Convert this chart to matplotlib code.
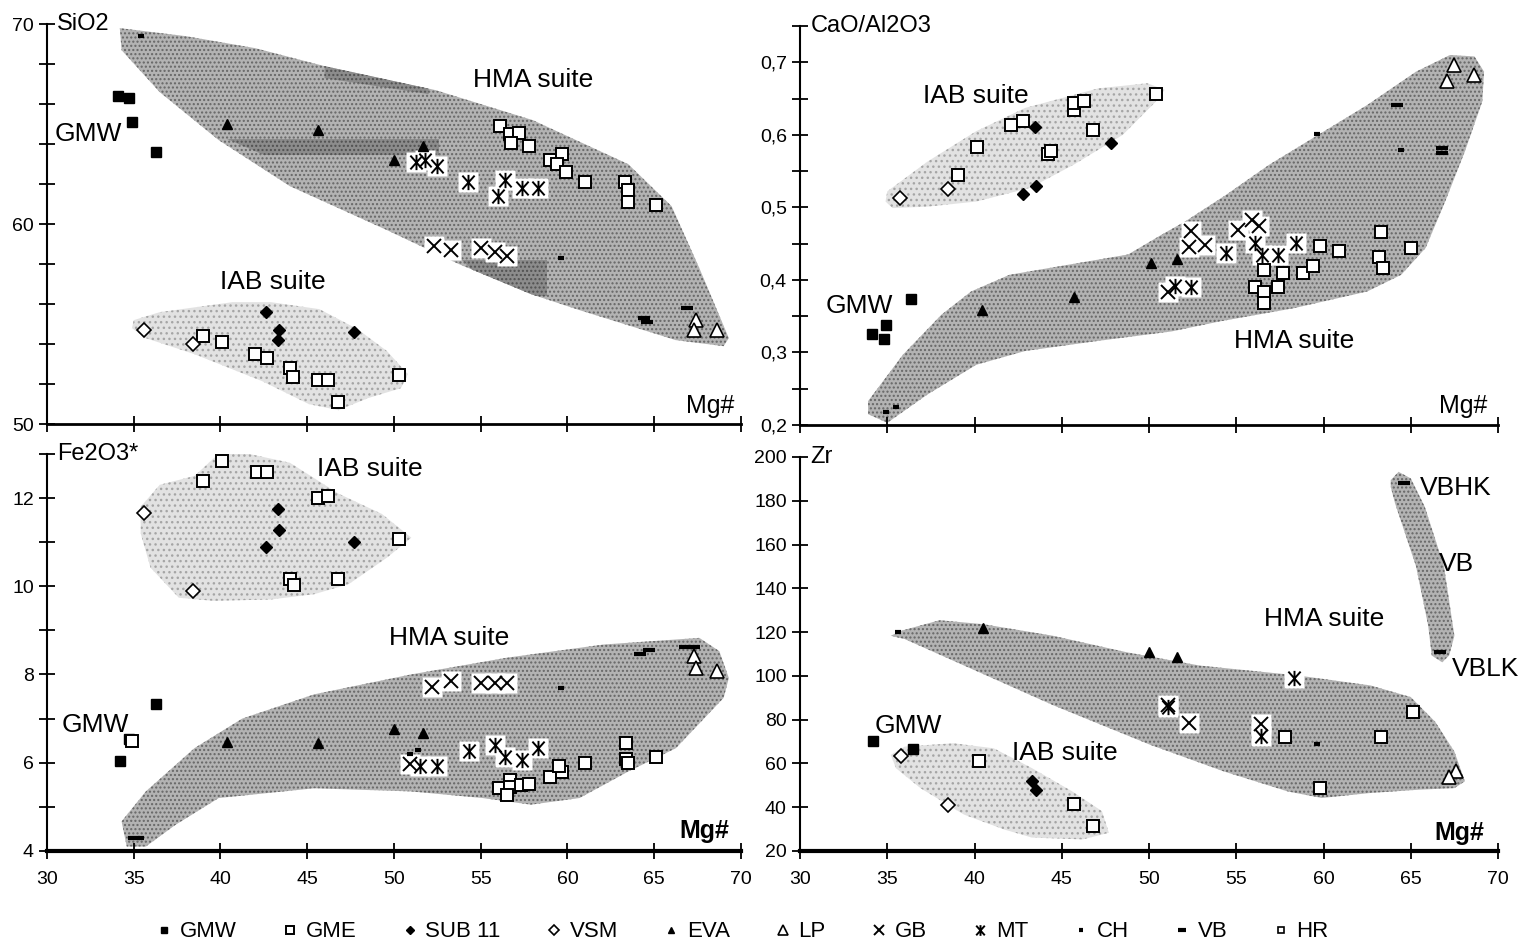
import numpy as np
import matplotlib
import matplotlib.pyplot as plt
from matplotlib.patches import Polygon
from matplotlib.path import Path
from matplotlib.lines import Line2D

plt.rcParams['font.family'] = ['Liberation Sans', 'DejaVu Sans']
plt.rcParams['hatch.linewidth'] = 1.0

# ---------------- data ----------------
x_ticks = [30, 35, 40, 45, 50, 55, 60, 65, 70]
x_labels = ['30', '35', '40', '45', '50', '55', '60', '65', '70']

# SiO2 vs Mg#
tl_yticks = [50, 52, 54, 56, 58, 60, 62, 64, 66, 68, 70]
tl_ylabels = ['50', '', '', '', '', '60', '', '', '', '', '70']
tl_gmw = [(34.1, 66.4), (34.7, 66.3), (34.9, 65.1), (36.3, 63.6)]
tl_gme = [(39.0, 54.4), (40.1, 54.1), (42.0, 53.5), (42.7, 53.3), (44.0, 52.8), (44.2, 52.35),
          (45.6, 52.2), (46.2, 52.2), (46.8, 51.1), (50.3, 52.45),
          (56.1, 64.9), (56.7, 64.5), (57.2, 64.55), (56.75, 64.05), (57.8, 63.9), (59.0, 63.2),
          (59.7, 63.5), (59.4, 63.0), (59.9, 62.6), (61.0, 62.1), (63.3, 62.1), (63.5, 61.7),
          (63.5, 61.1), (65.1, 60.95)]
tl_sub11 = [(42.6, 55.6), (43.4, 54.7), (43.3, 54.2), (47.7, 54.6)]
tl_vsm = [(35.6, 54.7), (38.4, 54.0)]
tl_eva = [(40.4, 65.0), (45.6, 64.7), (50.0, 63.2), (51.7, 63.9)]
tl_lp = [(67.4, 55.2), (67.3, 54.7), (68.6, 54.7)]
tl_gb = [(52.3, 58.9), (53.3, 58.7), (55.0, 58.8), (55.8, 58.6), (56.5, 58.4)]
tl_mt = [(51.25, 63.1), (51.8, 63.2), (52.5, 62.9), (54.25, 62.1), (56.4, 62.2), (56.0, 61.4),
         (57.4, 61.8), (58.3, 61.8)]
tl_ch = [(35.4, 69.4), (59.6, 58.3)]
tl_vb = [(66.9, 55.8), (64.4, 55.3), (64.6, 55.1)]
tl_hma = [(34.2, 69.8), (38.0, 69.4), (42.0, 68.8), (46.0, 67.9), (52.4, 66.7), (58.0, 65.2),
          (63.5, 63.0), (66.0, 60.9), (67.6, 57.8), (69.3, 54.3), (69.0, 53.9), (66.25, 54.2),
          (60.7, 55.7), (57.9, 56.5), (53.75, 58.0), (49.6, 59.7), (44.0, 61.9), (39.9, 64.2),
          (36.5, 66.6), (34.3, 68.7)]
tl_iab = [(35.0, 55.2), (36.5, 55.6), (40.7, 56.1), (42.9, 56.1), (45.7, 55.75), (47.9, 54.75),
          (49.6, 53.65), (50.8, 52.5), (50.4, 51.8), (48.5, 51.3), (46.8, 50.7), (45.1, 51.0),
          (42.4, 52.15), (38.5, 53.5), (35.7, 54.3), (34.9, 54.8)]
tl_text = [('HMA suite', 58.0, 67.2), ('IAB suite', 43.0, 57.1), ('GMW', 32.4, 64.5)]

# CaO/Al2O3 vs Mg#
tr_yticks = [0.2, 0.25, 0.3, 0.35, 0.4, 0.45, 0.5, 0.55, 0.6, 0.65, 0.7, 0.75]
tr_ylabels = ['0,2', '', '0,3', '', '0,4', '', '0,5', '', '0,6', '', '0,7', '']
tr_gmw = [(36.36, 0.374), (34.1, 0.326), (34.9, 0.338), (34.8, 0.319)]
tr_gme = [(39.05, 0.544), (40.17, 0.583), (42.1, 0.614), (42.75, 0.619), (45.7, 0.634),
          (45.7, 0.644), (46.3, 0.646), (46.8, 0.607), (44.2, 0.573), (44.4, 0.578), (50.4, 0.656),
          (59.8, 0.447), (60.9, 0.440), (56.6, 0.413), (57.7, 0.410), (58.85, 0.410), (59.4, 0.419),
          (56.05, 0.390), (56.6, 0.384), (57.4, 0.390), (56.6, 0.368), (63.3, 0.466), (63.2, 0.431),
          (63.4, 0.416), (65.0, 0.444)]
tr_sub11 = [(43.45, 0.611), (42.75, 0.518), (43.5, 0.529), (47.8, 0.589)]
tr_vsm = [(35.74, 0.513), (38.46, 0.525)]
tr_eva = [(50.1, 0.423), (51.6, 0.429), (45.7, 0.377), (40.4, 0.359)]
tr_lp = [(67.5, 0.696), (67.1, 0.674), (68.6, 0.682)]
tr_gb = [(52.4, 0.467), (52.3, 0.446), (53.2, 0.448), (55.1, 0.469), (55.9, 0.483), (56.3, 0.474),
         (51.1, 0.384)]
tr_mt = [(54.4, 0.437), (56.05, 0.451), (56.5, 0.435), (57.4, 0.435), (58.4, 0.451), (51.5, 0.391),
         (52.4, 0.390)]
tr_ch = [(59.6, 0.601), (64.45, 0.579), (34.9, 0.218), (35.5, 0.225)]
tr_vb = [(64.2, 0.641), (66.8, 0.582), (66.8, 0.575)]
tr_hma = [(35.0, 0.203), (37.3, 0.242), (40.1, 0.283), (42.9, 0.302), (47.1, 0.316), (51.3, 0.329),
          (54.1, 0.343), (58.3, 0.361), (62.5, 0.384), (64.45, 0.407), (65.85, 0.444), (66.97, 0.508),
          (68.1, 0.577), (69.1, 0.646), (69.2, 0.687), (68.65, 0.708), (67.25, 0.710), (65.3, 0.687),
          (62.5, 0.641), (59.7, 0.600), (56.9, 0.559), (54.4, 0.517), (52.1, 0.481), (50.7, 0.462),
          (48.8, 0.435), (45.4, 0.421), (42.0, 0.407), (39.8, 0.384), (38.1, 0.352), (35.9, 0.297),
          (33.9, 0.233), (33.9, 0.215)]
tr_iab = [(34.9, 0.508), (35.0, 0.522), (37.3, 0.563), (40.1, 0.605), (42.9, 0.637), (47.1, 0.664),
          (49.9, 0.671), (50.9, 0.662), (50.4, 0.646), (48.5, 0.600), (45.7, 0.559), (43.2, 0.527),
          (40.1, 0.508), (37.3, 0.501), (35.3, 0.499)]
tr_text = [('IAB suite', 40.1, 0.653), ('GMW', 33.4, 0.364), ('HMA suite', 58.3, 0.316)]

# Fe2O3* vs Mg#
bl_yticks = [4, 5, 6, 7, 8, 9, 10, 11, 12, 13]
bl_ylabels = ['4', '', '6', '', '8', '', '10', '', '12', '']
bl_gmw = [(36.3, 7.33), (34.7, 6.54), (34.2, 6.03)]
bl_gme = [(34.9, 6.5), (40.1, 12.85), (39.0, 12.39), (42.1, 12.6), (42.7, 12.6), (45.6, 11.99),
          (46.2, 12.04), (50.3, 11.08), (44.0, 10.16), (44.25, 10.02), (46.8, 10.16),
          (56.05, 5.42), (56.7, 5.61), (56.7, 5.46), (56.5, 5.26), (57.3, 5.5), (57.8, 5.52),
          (59.0, 5.67), (59.7, 5.8), (59.5, 5.92), (61.0, 5.99), (63.4, 6.45), (63.4, 6.08),
          (63.5, 5.99), (65.1, 6.14)]
bl_sub11 = [(43.3, 11.75), (43.4, 11.27), (42.6, 10.88), (47.7, 11.0)]
bl_vsm = [(35.6, 11.67), (38.4, 9.9)]
bl_eva = [(40.4, 6.48), (45.6, 6.45), (50.0, 6.77), (51.7, 6.67)]
bl_lp = [(67.3, 8.42), (67.4, 8.15), (68.6, 8.09)]
bl_gb = [(52.2, 7.71), (53.3, 7.85), (55.0, 7.81), (55.8, 7.81), (56.5, 7.81), (50.9, 5.98)]
bl_mt = [(51.5, 5.92), (52.5, 5.92), (54.3, 6.27), (55.8, 6.41), (56.4, 6.14), (57.4, 6.07),
         (58.3, 6.33)]
bl_ch = [(50.9, 6.2), (51.4, 6.28), (59.6, 7.7), (35.4, 4.29)]
bl_vb = [(64.2, 8.47), (64.7, 8.55), (66.8, 8.62), (67.3, 8.62), (35.0, 4.3)]
bl_hma = [(34.6, 4.1), (34.3, 4.67), (35.7, 5.35), (38.5, 6.33), (41.25, 7.0), (45.4, 7.55),
          (50.97, 8.0), (56.5, 8.38), (62.1, 8.68), (67.6, 8.83), (68.75, 8.53), (69.3, 7.92),
          (69.0, 7.47), (66.25, 6.33), (63.5, 5.8), (60.7, 5.2), (57.9, 5.05), (55.1, 5.2),
          (50.97, 5.35), (45.4, 5.42), (39.9, 5.2), (37.4, 4.59), (35.7, 4.1)]
bl_iab = [(35.4, 11.8), (36.5, 12.3), (38.5, 12.5), (40.0, 13.04), (40.7, 13.08), (44.0, 12.8),
          (46.8, 12.1), (49.3, 11.64), (51.0, 11.1), (49.6, 10.65), (47.4, 10.05), (45.4, 9.82),
          (42.9, 9.7), (39.6, 9.67), (37.6, 9.74), (35.97, 10.42), (35.4, 11.2)]
bl_text = [('IAB suite', 48.6, 12.66), ('HMA suite', 53.2, 8.83), ('GMW', 32.8, 6.86)]

# Zr vs Mg#
br_yticks = [20, 40, 60, 80, 100, 120, 140, 160, 180, 200]
br_ylabels = ['20', '40', '60', '80', '100', '120', '140', '160', '180', '200']
br_gmw = [(34.2, 70.2), (36.5, 66.4)]
br_gme = [(40.25, 61.1), (45.7, 41.6), (46.8, 31.6), (57.8, 72.2), (63.3, 72.2), (65.1, 83.5),
          (59.8, 48.7)]
br_sub11 = [(43.3, 51.8), (43.5, 48.0)]
br_vsm = [(35.8, 63.4), (38.5, 41.2)]
br_eva = [(40.5, 121.8), (50.0, 111.1), (51.6, 108.5)]
br_lp = [(67.6, 56.3), (67.2, 53.6)]
br_gb = [(52.3, 78.5), (56.4, 78.2), (51.1, 86.5)]
br_mt = [(58.3, 99.0), (51.1, 85.8), (56.4, 72.5)]
br_ch = [(35.6, 120.2), (59.6, 68.7)]
br_vb = [(64.6, 187.9), (66.7, 110.8)]
br_hma = [(35.2, 118.3), (35.8, 120.6), (38.0, 125.4), (40.5, 123.6), (44.5, 118.3), (48.7, 110.8),
          (52.9, 104.7), (58.5, 100.2), (62.7, 95.6), (65.0, 90.3), (66.4, 79.0), (67.5, 65.4),
          (68.1, 51.8), (67.5, 48.7), (65.5, 48.0), (62.7, 46.5), (59.9, 44.2), (57.95, 47.2),
          (54.3, 56.3), (50.1, 68.4), (44.5, 86.6), (40.25, 101.7), (36.0, 116.8)]
br_vbfield = [(63.85, 189.4), (64.3, 193.2), (65.0, 190.2), (65.8, 177.3), (66.9, 150.1),
              (67.5, 118.3), (67.2, 109.3), (66.8, 106.2), (66.2, 109.3), (66.0, 122.9),
              (65.3, 150.1), (64.1, 178.8), (63.85, 186.4)]
br_iab = [(35.2, 63.9), (36.0, 67.7), (38.8, 69.2), (41.1, 66.9), (43.3, 57.8), (45.6, 47.2),
          (47.3, 38.2), (47.7, 28.3), (46.2, 25.3), (43.3, 26.1), (41.7, 29.8), (39.4, 36.6),
          (36.9, 48.7), (35.5, 57.8)]
br_text = [('HMA suite', 60.05, 125.9), ('GMW', 36.2, 77.2), ('IAB suite', 45.2, 64.6),
           ('VBHK', 67.6, 185.7), ('VB', 67.6, 150.9), ('VBLK', 69.3, 103.2)]

legend_names = ['GMW', 'GME', 'SUB 11', 'VSM', 'EVA', 'LP', 'GB', 'MT', 'CH', 'VB', 'HR']

# ---------------- styles ----------------
# "ж"-like symbol: an X with a vertical stroke through it
mt_marker = Path([(-0.8, -0.9), (0.8, 0.9), (-0.8, 0.9), (0.8, -0.9), (0, -1), (0, 1)],
                 [Path.MOVETO, Path.LINETO, Path.MOVETO, Path.LINETO, Path.MOVETO, Path.LINETO])

styles = {
    'GMW': dict(marker='s', ms=7, mfc='black', mec='black'),
    'GME': dict(marker='s', ms=9, mfc='white', mec='black', mew=1.4),
    'SUB 11': dict(marker='D', ms=6, mfc='black', mec='black'),
    'VSM': dict(marker='D', ms=7, mfc='white', mec='black', mew=1.2),
    'EVA': dict(marker='^', ms=7, mfc='black', mec='black'),
    'LP': dict(marker='^', ms=10, mfc='white', mec='black', mew=1.2),
    'GB': dict(marker='x', ms=10, mec='black', mew=1.4),
    'MT': dict(marker=mt_marker, ms=11, mec='black', mew=1.4),
    'CH': dict(marker='_', ms=5, mec='black', mew=3),
    'VB': dict(marker='_', ms=9, mec='black', mew=3),
    'HR': dict(marker='s', ms=7, mfc='white', mec='black', mew=1.2),
}

fig = plt.figure(figsize=(15.3, 9.51), dpi=100)
ax_tl = fig.add_axes([0.0307, 0.554, 0.4536, 0.4206])
ax_tr = fig.add_axes([0.5229, 0.5531, 0.4562, 0.4196])
ax_bl = fig.add_axes([0.0307, 0.1052, 0.4536, 0.4175])
ax_br = fig.add_axes([0.5229, 0.1052, 0.4562, 0.4143])


def field(ax, pts, dark=True):
    if dark:
        p = Polygon(pts, closed=True, facecolor='#b3b3b3', edgecolor='#666666', hatch='....', lw=0, zorder=1)
    else:
        p = Polygon(pts, closed=True, facecolor='#e2e2e2', edgecolor='#a5a5a5', hatch='...', lw=0, zorder=1)
    ax.add_patch(p)
    return p


def points(ax, name, pts, halo=False):
    xs = [p[0] for p in pts]
    ys = [p[1] for p in pts]
    if halo:
        ax.plot(xs, ys, ls='none', marker='s', ms=15, mfc='white', mec='none', zorder=3)
    ax.plot(xs, ys, ls='none', zorder=4, **styles[name])


def setup(ax, ylim, yticks, ylabels, ytitle, bottom):
    ax.set_xlim(30, 70)
    ax.set_ylim(*ylim)
    for s in ['top', 'right']:
        ax.spines[s].set_visible(False)
    ax.spines['left'].set_linewidth(1.5)
    ax.spines['bottom'].set_linewidth(3 if bottom else 2)
    ax.set_xticks(x_ticks)
    ax.set_xticklabels(x_labels if bottom else [''] * len(x_ticks))
    ax.set_yticks(yticks)
    ax.set_yticklabels(ylabels)
    ax.tick_params(direction='inout', length=11, width=1.3, labelsize=14, pad=4)
    ax.tick_params(axis='x', pad=9)
    ax.set_facecolor('none')
    ax.text(30.6, ylim[1], ytitle, fontsize=17, va='center', ha='left')


setup(ax_tl, (50, 70), tl_yticks, tl_ylabels, 'SiO2', False)
setup(ax_tr, (0.2, 0.75), tr_yticks, tr_ylabels, 'CaO/Al2O3', False)
setup(ax_bl, (4, 13), bl_yticks, bl_ylabels, 'Fe2O3*', True)
setup(ax_br, (20, 200), br_yticks, br_ylabels, 'Zr', True)

# fields
hma = field(ax_tl, tl_hma)
field(ax_tl, tl_iab, dark=False)
# darker overprinted bands in the scan
for band in ([(40.4, 64.25), (52.6, 64.25), (52.6, 63.45), (42.5, 63.45)],
             [(46.0, 68.2), (52.0, 68.2), (52.0, 66.5), (46.0, 67.3)],
             [(53.9, 58.2), (58.8, 58.2), (58.8, 56.4), (56.0, 56.4)]):
    b = Polygon(band, closed=True, facecolor='#8c8c8c', edgecolor='#505050', hatch='....', lw=0, zorder=1.5)
    ax_tl.add_patch(b)
    b.set_clip_path(hma)

field(ax_tr, tr_hma)
field(ax_tr, tr_iab, dark=False)
field(ax_bl, bl_hma)
field(ax_bl, bl_iab, dark=False)
field(ax_br, br_hma)
field(ax_br, br_vbfield)
field(ax_br, br_iab, dark=False)

panels = [
    (ax_tl, tl_gmw, tl_gme, tl_sub11, tl_vsm, tl_eva, tl_lp, tl_gb, tl_mt, tl_ch, tl_vb, tl_text),
    (ax_tr, tr_gmw, tr_gme, tr_sub11, tr_vsm, tr_eva, tr_lp, tr_gb, tr_mt, tr_ch, tr_vb, tr_text),
    (ax_bl, bl_gmw, bl_gme, bl_sub11, bl_vsm, bl_eva, bl_lp, bl_gb, bl_mt, bl_ch, bl_vb, bl_text),
    (ax_br, br_gmw, br_gme, br_sub11, br_vsm, br_eva, br_lp, br_gb, br_mt, br_ch, br_vb, br_text),
]
for ax, gmw, gme, sub11, vsm, eva, lp, gb, mt, ch, vb, txt in panels:
    points(ax, 'GB', gb, halo=True)
    points(ax, 'MT', mt, halo=True)
    points(ax, 'GMW', gmw)
    points(ax, 'GME', gme)
    points(ax, 'SUB 11', sub11)
    points(ax, 'VSM', vsm)
    points(ax, 'EVA', eva)
    points(ax, 'LP', lp)
    points(ax, 'CH', ch)
    points(ax, 'VB', vb)
    for t, x, y in txt:
        ax.text(x, y, t, fontsize=19, ha='center', va='center', zorder=5)

ax_tl.text(68.2, 50.9, 'Mg#', fontsize=18, ha='center', va='center')
ax_tr.text(68.0, 0.226, 'Mg#', fontsize=18, ha='center', va='center')
ax_bl.text(67.9, 4.45, 'Mg#', fontsize=18, ha='center', va='center', fontweight='bold')
ax_br.text(67.8, 28.3, 'Mg#', fontsize=18, ha='center', va='center', fontweight='bold')

# legend row at the bottom
handles = []
for n in legend_names:
    st = dict(styles[n])
    st['ms'] = st['ms'] * 0.7
    handles.append(Line2D([], [], ls='none', **st))
fig.legend(handles, legend_names, loc='center', bbox_to_anchor=(0.485, 0.02), ncol=11,
           frameon=False, fontsize=16, handletextpad=0.3, columnspacing=2.0, handlelength=0.8)

fig.savefig('out.png', dpi=100)
